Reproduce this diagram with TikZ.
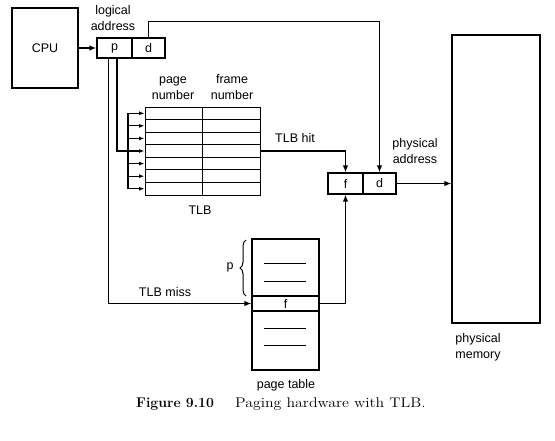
\documentclass[tikz,border=0pt]{standalone}
\usepackage{fontspec}
\usepackage{graphicx}
\newfontfamily\hv{Liberation Sans}
\usetikzlibrary{arrows.meta,decorations.pathreplacing,calc}
\begin{document}
\begin{tikzpicture}[x=1pt,y=-1pt,
 box/.style={draw,line width=1.1pt,inner sep=0pt,font=\hv\fontsize{12.5}{16}\selectfont},
 cell/.style={draw,line width=1pt,inner sep=0pt,minimum height=12.571pt},
 conn/.style={line width=1.5pt},
 arr/.style={conn,-{Latex[length=7pt,width=5.5pt]}},
 sarr/.style={line width=1.1pt,-{Latex[length=5.5pt,width=4pt]}},
 lbl/.style={font=\hv\fontsize{12.5}{16}\selectfont,align=center,inner sep=0pt},
 dash line/.style={line width=1pt}]
\useasboundingbox (0,0) rectangle (555,440);
% CPU
\node[box,minimum width=66pt,minimum height=80pt] (cpu) at (45,48) {CPU};
% logical address
\node[box,minimum width=35pt,minimum height=20pt] (lap) at (114.5,48) {p};
\node[box,minimum width=33pt,minimum height=20pt] (lad) at (148.5,48) {d};
\node[lbl] (lalbl) at (113,18) {logical\\address};
\draw[arr] (cpu.east) -- (lap.west);
% physical address
\node[box,minimum width=35pt,minimum height=21pt] (paf) at (345.5,183.5) {f};
\node[box,minimum width=33pt,minimum height=21pt] (pad) at (379.5,183.5) {d};
\node[lbl] (palbl) at (415,151) {physical\\address};
% memory
\node[box,minimum width=88pt,minimum height=288pt] (mem) at (496,179) {};
\node[lbl] (memlbl) at (478,347) {physical\\memory};
\draw[arr] (pad.east) -- (pad.east -| mem.west);
% d line
\coordinate (dtop) at ($(lad.north)+(0,-16)$);
\draw[arr] (lad.north) -- (dtop) -| (pad.north);
% TLB
\foreach \i in {1,...,7}{
  \node[cell,minimum width=57pt] (tlbL\i) at (173.5,{107+(\i-0.5)*12.571}) {};
  \node[cell,minimum width=58pt] (tlbR\i) at (231,{107+(\i-0.5)*12.571}) {};
  \coordinate (bus\i) at (128,{107+(\i-0.5)*12.571});
  \draw[sarr] (bus\i) -- (tlbL\i.west);
}
\draw[line width=1.1pt] (bus1) -- (bus7);
\node[lbl] (pnlbl) at (173,88) {page\\number};
\node[lbl] (fnlbl) at (232,87) {frame\\number};
\node[lbl] (tlblbl) at (200,210) {TLB};
\draw[conn] ([xshift=2.5pt]lap.south) |- (bus4);
% TLB hit
\draw[arr] (tlbR4.east) -| (paf.north);
\node[lbl] (hitlbl) at (295,138) {TLB hit};
% page table
\node[box,minimum width=67pt,minimum height=57pt] (ptTop) at (285.5,267.5) {};
\node[box,minimum width=67pt,minimum height=15pt] (ptF) at (285.5,303.5) {f};
\node[box,minimum width=67pt,minimum height=59pt] (ptBot) at (285.5,340.5) {};
\foreach \y in {263,281,328,345} \draw[dash line] (264,\y) -- (306,\y);
\draw[line width=1pt,decorate,decoration={brace,amplitude=6pt}] (246,296) -- (246,240);
\node[lbl] (plbl) at (230,267) {p};
\node[lbl] (ptlbl) at (286,385) {page table};
% TLB miss
\draw[arr] ([xshift=-6pt]lap.south) |- (ptF.west);
\node[lbl] (misslbl) at (165,292) {TLB miss};
\draw[arr] (ptF.east) -| (paf.south);
% caption
\node[inner sep=0pt,anchor=base west,font=\fontsize{14}{16}\selectfont] (capa) at (136,407) {\textbf{Figure 9.10}};
\node[inner sep=0pt,anchor=base west,font=\fontsize{14}{16}\selectfont] (capb) at (235,407) {\scalebox{1.13}[1]{Paging hardware with TLB.}};
\end{tikzpicture}
\end{document}
